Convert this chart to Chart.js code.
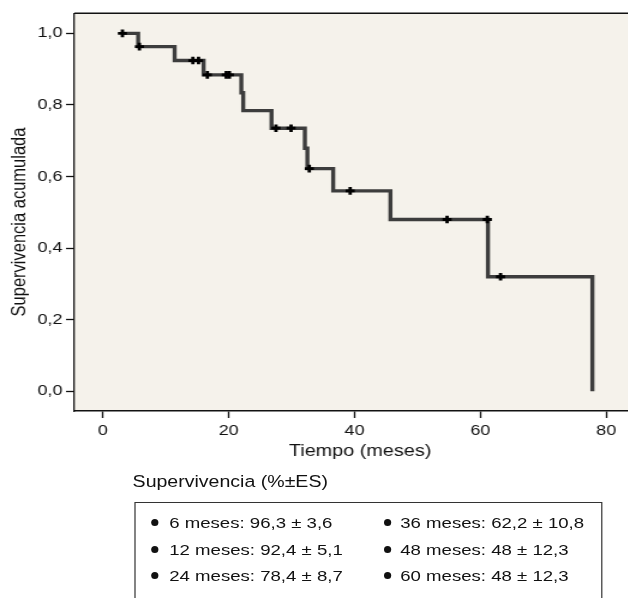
<!DOCTYPE html>
<html>
<head>
<meta charset="utf-8">
<script src="https://cdn.jsdelivr.net/npm/chart.js@4/dist/chart.umd.min.js"></script>
<style>
  html, body { margin: 0; padding: 0; background: #fff; overflow: hidden; width: 628px; height: 598px; }
  /* the original picture is stretched sideways a bit, so everything is drawn narrow and scaled */
  #stage { position: absolute; left: 0; top: 0; width: 545px; height: 598px; transform: scaleX(1.2); transform-origin: 0 0; }
  #kmChart { position: absolute; left: 0; top: 0; }
  .txt { position: absolute; font-family: "Liberation Sans", Arial, sans-serif; font-size: 15.5px; line-height: 17px; color: #111; white-space: nowrap; }
  .dot { position: absolute; width: 6px; height: 7px; border-radius: 50%; background: #111; }
  #box { position: absolute; left: 111.5px; top: 502px; width: 390px; height: 120px; border: 1px solid #333; box-sizing: border-box; }
</style>
</head>
<body>
<div id="stage">
  <canvas id="kmChart" width="545" height="470"></canvas>
  <div class="txt" id="summaryTitle" style="left:110.5px; top:473px; font-size:16.3px;"></div>
  <div id="box"></div>
</div>
<script>
// Kaplan-Meier curve, times in months
const eventTimes = [3.1, 5.6, 11.4, 16.0, 22.0, 22.3, 26.8, 32.1, 32.5, 36.6, 45.7, 61.2, 77.8];
const survival   = [1.0, 0.963, 0.924, 0.884, 0.834, 0.784, 0.735, 0.679, 0.622, 0.560, 0.480, 0.320, 0.0];

// censored cases (the + marks)
const censoredTimes    = [3.1, 5.8, 14.3, 15.2, 16.6, 19.6, 20.1, 27.5, 29.9, 32.8, 39.3, 54.7, 61.1, 63.2];
const censoredSurvival = [1.0, 0.963, 0.924, 0.924, 0.884, 0.884, 0.884, 0.735, 0.735, 0.622, 0.560, 0.480, 0.480, 0.320];

const xTicks = [0, 20, 40, 60, 80];
const yTicks = [0, 0.2, 0.4, 0.6, 0.8, 1.0];

const xTitle = 'Tiempo (meses)';
const yTitle = 'Supervivencia acumulada';

// summary box
const summaryTitle = 'Supervivencia (%±ES)';
const summaryLabels = ['6 meses', '12 meses', '24 meses', '36 meses', '48 meses', '60 meses'];
const summaryValues = ['96,3', '92,4', '78,4', '62,2', '48', '48'];
const summaryErrors = ['3,6', '5,1', '8,7', '10,8', '12,3', '12,3'];

/**********************************************************************************
 * SUMMARY BOX
 *********************************************************************************/

document.getElementById('summaryTitle').textContent = summaryTitle;

const stage = document.getElementById('stage');
const rowBaselines = [528, 555, 581];
const colText = [141, 333.5];
const colDot = [125.5, 319.5];

summaryLabels.forEach((label, i) => {
    const col = Math.floor(i / 3);
    const row = i % 3;
    const t = document.createElement('div');
    t.className = 'txt';
    t.style.left = colText[col] + 'px';
    t.style.top = (rowBaselines[row] - 14) + 'px';
    t.textContent = label + ': ' + summaryValues[i] + ' ± ' + summaryErrors[i];
    stage.appendChild(t);

    const d = document.createElement('div');
    d.className = 'dot';
    d.style.left = colDot[col] + 'px';
    d.style.top = (rowBaselines[row] - 9) + 'px';
    stage.appendChild(d);
});

/**********************************************************************************
 * CHART
 *********************************************************************************/

const plotBackground = {
    id: 'plotBackground',
    beforeDraw(chart) {
        const {ctx, chartArea} = chart;
        ctx.save();
        ctx.fillStyle = '#f5f2eb';
        ctx.fillRect(chartArea.left, chartArea.top, chartArea.right - chartArea.left, chartArea.bottom - chartArea.top);
        ctx.restore();
    },
    afterDraw(chart) {
        const {ctx, chartArea} = chart;
        ctx.save();
        // top frame line
        ctx.strokeStyle = '#111';
        ctx.lineWidth = 1.5;
        ctx.beginPath();
        ctx.moveTo(chartArea.left, chartArea.top);
        ctx.lineTo(chartArea.right + 5, chartArea.top);
        ctx.stroke();
        // y title, sits a bit below the middle of the plot in the original
        ctx.translate(16.3, 222);
        ctx.rotate(-Math.PI / 2);
        ctx.font = '16.5px "Liberation Sans"';
        ctx.fillStyle = '#111';
        ctx.textAlign = 'center';
        ctx.textBaseline = 'middle';
        ctx.fillText(yTitle, 0, 0);
        ctx.restore();
    }
};

const comma = v => v.toFixed(1).replace('.', ',');
const tickFont = { family: 'Liberation Sans', size: 15 };
const titleFont = { family: 'Liberation Sans', size: 16.5 };

const curve = eventTimes.map((t, i) => ({ x: t, y: survival[i] }));
const censored = censoredTimes.map((t, i) => ({ x: t, y: censoredSurvival[i] }));

new Chart(document.getElementById('kmChart'), {
    type: 'scatter',
    data: {
        datasets: [
            {
                label: 'Censurado',
                data: censored,
                pointStyle: 'cross',
                pointRadius: 3.8,
                pointBorderWidth: 2.8,
                borderColor: '#000',
                backgroundColor: '#000',
                showLine: false,
                order: 0
            },
            {
                label: 'Supervivencia',
                data: curve,
                showLine: true,
                stepped: 'before',
                borderColor: '#3d3d3d',
                borderWidth: 3.4,
                borderCapStyle: 'butt',
                borderJoinStyle: 'miter',
                pointRadius: 0,
                fill: false,
                order: 1
            }
        ]
    },
    options: {
        responsive: false,
        animation: false,
        events: [],
        layout: { padding: { top: 13.3, right: 3, bottom: 0, left: 0 } },
        plugins: { legend: { display: false }, tooltip: { enabled: false } },
        scales: {
            x: {
                type: 'linear',
                min: -4.53,
                max: 86.3,
                afterBuildTicks: s => { s.ticks = xTicks.map(v => ({ value: v })); },
                afterFit: s => { s.height = 59; },
                ticks: { font: tickFont, color: '#111', padding: 4, maxRotation: 0 },
                grid: { drawOnChartArea: false, drawTicks: true, tickLength: 7, color: '#111', tickWidth: 1.3 },
                border: { display: true, color: '#111', width: 1.5 },
                title: { display: true, text: xTitle, font: titleFont, color: '#111', padding: { top: 0, bottom: 9 } }
            },
            y: {
                type: 'linear',
                min: -0.055,
                max: 1.056,
                afterBuildTicks: s => { s.ticks = yTicks.map(v => ({ value: v })); },
                afterFit: s => { s.width = 62; },
                ticks: { font: tickFont, color: '#111', padding: 3, callback: v => comma(v) },
                grid: { drawOnChartArea: false, drawTicks: true, tickLength: 7, color: '#111', tickWidth: 1.3 },
                border: { display: true, color: '#111', width: 1.3 },
                title: { display: false }
            }
        }
    },
    plugins: [plotBackground]
});
</script>
</body>
</html>
